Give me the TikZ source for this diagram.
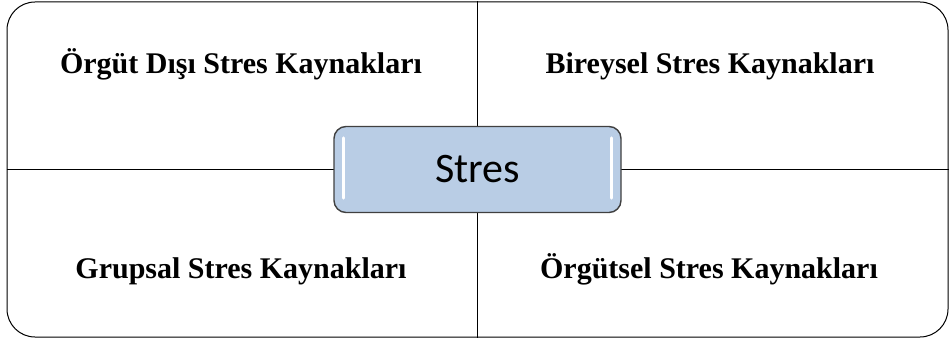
\documentclass[tikz,border=0pt]{standalone}
\usepackage{fontspec}
\setmainfont{Liberation Serif}
\newfontfamily\boxfont{Carlito}
\usepackage{tikz}
\usetikzlibrary{positioning,calc}
\definecolor{boxblue}{RGB}{185,205,229}
\definecolor{boxline}{RGB}{64,64,64}
\tikzset{
    framebox/.style={
        draw=black,
        line width=1pt,
        rounded corners=28pt,
        minimum width=941pt,
        minimum height=335pt,
        inner sep=0pt
    },
    % the rounded blue box in the middle
    stresbox/.style={
        draw=boxline,
        line width=1.4pt,
        fill=boxblue,
        rounded corners=12pt,
        minimum width=287pt,
        minimum height=86pt,
        inner sep=0pt,
        font=\boxfont\fontsize{42}{48}\selectfont
    },
    sourcetext/.style={
        anchor=base,
        inner sep=0pt,
        font=\bfseries\fontsize{30}{36}\selectfont
    },
    gloss/.style={
        white,
        line width=3pt,
        line cap=round
    }
}

\begin{document}
\begin{tikzpicture}[x=1pt,y=1pt]
	\useasboundingbox (0,0) rectangle (949,340);
	
	% outer frame and dividing lines
	\node[framebox] (frame) at (477.5,170.5) {};
	\draw[line width=1pt] (frame.north) -- (frame.south);
	\draw[line width=1pt] (frame.west) -- (frame.east);
	
	% centre box
	\node[stresbox] (stres) at (frame.center) {Stres};
	\draw[gloss] ([xshift=10pt,yshift=-12pt]stres.north west) -- ([xshift=10pt,yshift=15pt]stres.south west);
	\draw[gloss] ([xshift=-10pt,yshift=-12pt]stres.north east) -- ([xshift=-10pt,yshift=15pt]stres.south east);
	
	% texts
	\node[sourcetext] (disi) at (241,266) {Örgüt Dışı Stres Kaynakları};
	\node[sourcetext] (bireysel) at (710,266) {Bireysel Stres Kaynakları};
	\node[sourcetext] (grupsal) at (241,62) {Grupsal Stres Kaynakları};
	\node[sourcetext] (orgutsel) at (709,62) {Örgütsel Stres Kaynakları};
\end{tikzpicture}
\end{document}
